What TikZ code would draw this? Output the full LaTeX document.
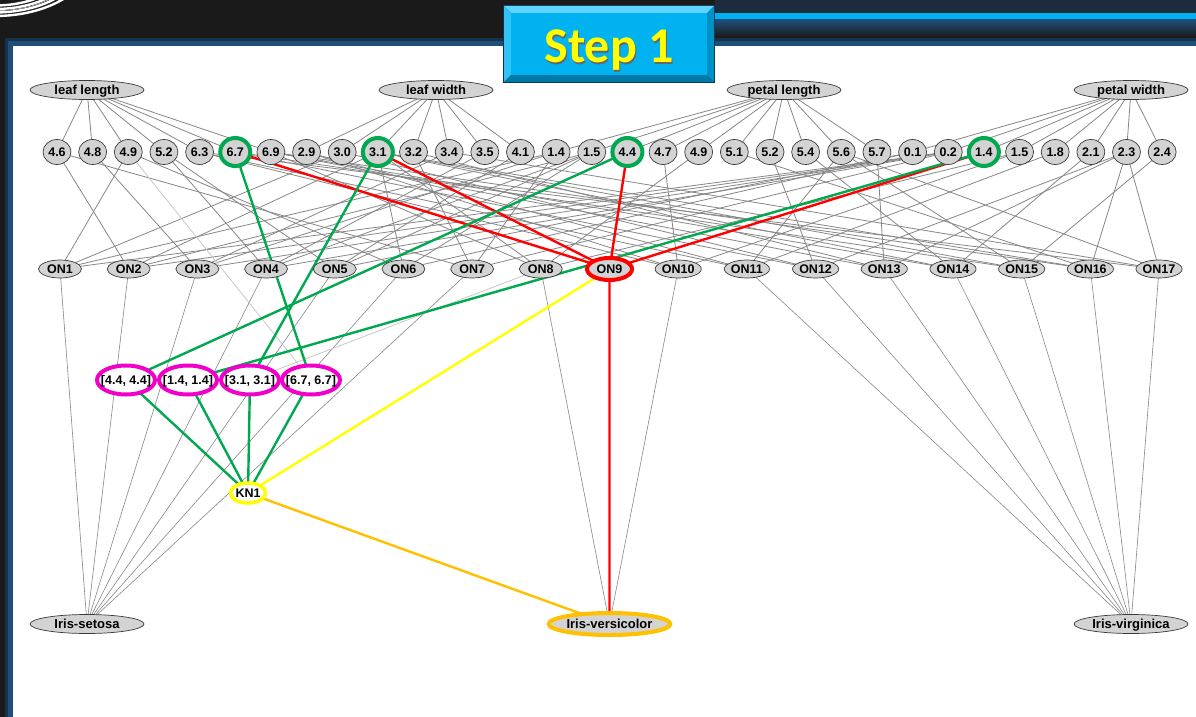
\documentclass[tikz,border=0pt]{standalone}
\usepackage{fontspec}
\setmainfont{Liberation Sans}
\newfontfamily\stepfont{Carlito}
\usetikzlibrary{shapes.geometric}

\definecolor{nodegray}{HTML}{D3D3D3}
\definecolor{nodeline}{HTML}{3A3A3A}
\definecolor{edgegray}{HTML}{878787}
\definecolor{lightedge}{HTML}{C8C8C8}
\definecolor{hlgreen}{HTML}{00A84F}
\definecolor{hlred}{HTML}{FF0000}
\definecolor{hlyellow}{HTML}{FFFF00}
\definecolor{hlorange}{HTML}{FFC000}
\definecolor{hlmagenta}{HTML}{F000C8}
\definecolor{framedark}{HTML}{1A1A1A}
\definecolor{framenavy}{HTML}{1F4E79}
\definecolor{framedeep}{HTML}{16324D}
\definecolor{bandtop}{HTML}{1C2C3E}
\definecolor{stripeblue}{HTML}{00B0F0}
\definecolor{stepface}{HTML}{00B2F0}
\definecolor{steplight}{HTML}{5FD4FF}
\definecolor{stepmid}{HTML}{33C2F6}
\definecolor{stepshade}{HTML}{0079A8}
\definecolor{stepside}{HTML}{0092C4}
\definecolor{stepedge}{HTML}{0B3350}

\pgfdeclarelayer{bg}
\pgfdeclarelayer{edges}
\pgfsetlayers{bg,edges,main}

\begin{document}
\begin{tikzpicture}[x=1pt,y=-1pt,
  every node/.style={inner sep=0pt,outer sep=0pt},
  lab/.style={font=\fontsize{12.5}{12.5}\selectfont\bfseries,text height=9pt,text depth=0.5pt},
  biglab/.style={font=\fontsize{13}{13}\selectfont\bfseries,text height=9.5pt,text depth=1pt},
  attr/.style={ellipse,draw=nodeline,fill=nodegray,line width=0.7pt,
    minimum width=114,minimum height=19,biglab},
  val/.style={ellipse,draw=nodeline,fill=nodegray,line width=0.7pt,
    minimum width=28,minimum height=25,lab},
  valhi/.style={ellipse,draw=hlgreen,fill=nodegray,line width=4pt,
    minimum width=30,minimum height=28,lab},
  on/.style={ellipse,draw=nodeline,fill=nodegray,line width=0.7pt,
    minimum width=43,minimum height=18,lab},
  onhi/.style={ellipse,draw=hlred,fill=nodegray,line width=4pt,
    minimum width=45,minimum height=22,lab},
  interval/.style={ellipse,draw=hlmagenta,fill=white,line width=4pt,
    minimum width=58,minimum height=29,lab},
  knode/.style={ellipse,draw=hlyellow,fill=white,line width=3.5pt,
    minimum width=35,minimum height=20,lab},
  cls/.style={ellipse,draw=nodeline,fill=nodegray,line width=0.7pt,
    minimum width=114,minimum height=19,biglab},
  clshi/.style={ellipse,draw=hlorange,fill=nodegray,line width=4pt,
    minimum width=116,minimum height=22,biglab},
  edge/.style={draw=edgegray,line width=0.8pt},
  faint/.style={draw=lightedge,line width=0.8pt},
  hl/.style={line width=2.4pt}]

\useasboundingbox (0,0) rectangle (1196,717);

% ---------- slide frame ----------
\begin{pgfonlayer}{bg}
  \fill[framedark] (0,0) rectangle (1196,717);
  % header band on the right
  \fill[bandtop] (715,0) rectangle (1196,13);
  \fill[stripeblue] (715,13) rectangle (1196,20);
  \shade[top color=framenavy,bottom color=framedark] (715,20) rectangle (1196,37);
  % glow round the white panel
  \fill[framedeep] (5,38) rectangle (1196,717);
  \fill[framenavy] (8,41) rectangle (1196,717);
  \fill[white] (13,46) rectangle (1196,717);
  % ring in the top-left corner
  \begin{scope}
    \clip (0,0) rectangle (90,20);
    \foreach \r in {56,52.5,49,45.5}
      \draw[white,line width=2.4pt] (-5,-40) ellipse [x radius={\r*1.7},y radius=\r];
    \draw[gray!70,line width=0.8pt] (-5,-40) ellipse [x radius={50.7*1.7},y radius=50.7];
  \end{scope}
  % bevelled title button
  \fill[stepedge] (503,5) rectangle (715,83);
  \fill[steplight] (504,6) -- (714,6) -- (707,13) -- (511,13) -- cycle;
  \fill[stepmid] (504,6) -- (511,13) -- (511,75) -- (504,82) -- cycle;
  \fill[stepshade] (504,82) -- (511,75) -- (707,75) -- (714,82) -- cycle;
  \fill[stepside] (714,6) -- (707,13) -- (707,75) -- (714,82) -- cycle;
  \fill[stepface] (511,13) rectangle (707,75);
\end{pgfonlayer}

\node[anchor=base,text=black!60,font=\stepfont\bfseries\fontsize{50}{50}\selectfont]
  (titleshadow) at (610,64) {Step 1};
\node[anchor=base,text=hlyellow,font=\stepfont\bfseries\fontsize{50}{50}\selectfont]
  (title) at (609,63) {Step 1};

% ---------- attributes ----------
\node[attr] (la) at (87,90) {leaf length};
\node[attr] (lw) at (436,90) {leaf width};
\node[attr] (pl) at (784,90) {petal length};
\node[attr] (pw) at (1131,90) {petal width};

% ---------- attribute values ----------
\foreach \lab/\st [count=\i from 0] in {4.6/val,4.8/val,4.9/val,5.2/val,6.3/val,6.7/valhi,6.9/val,
  2.9/val,3.0/val,3.1/valhi,3.2/val,3.4/val,3.5/val,4.1/val,
  1.4/val,1.5/val,4.4/valhi,4.7/val,4.9/val,5.1/val,5.2/val,5.4/val,5.6/val,5.7/val,
  0.1/val,0.2/val,1.4/valhi,1.5/val,1.8/val,2.1/val,2.3/val,2.4/val}
  \node[\st] (v\i) at ({57+35.65*\i},152) {\lab};

% ---------- object nodes ----------
\foreach \st [count=\i] in {on,on,on,on,on,on,on,on,onhi,on,on,on,on,on,on,on,on}
  \node[\st] (on\i) at ({60+68.69*(\i-1)},269) {ON\i};

% ---------- intervals and knowledge node ----------
\node[interval] (i44) at (126,380) {\makebox[0pt]{[4.4, 4.4]}};
\node[interval] (i14) at (188,380) {\makebox[0pt]{[1.4, 1.4]}};
\node[interval] (i31) at (250,380) {\makebox[0pt]{[3.1, 3.1]}};
\node[interval] (i67) at (311,380) {\makebox[0pt]{[6.7, 6.7]}};
\node[knode] (kn1) at (248,493) {\makebox[0pt]{KN1}};

% ---------- classes ----------
\node[cls] (setosa) at (87,624) {Iris-setosa};
\node[clshi] (versicolor) at (609.5,624) {Iris-versicolor};
\node[cls] (virginica) at (1131,624) {Iris-virginica};

% ---------- connectors ----------
\begin{pgfonlayer}{edges}
  % attribute -> value
  \foreach \a/\l in {la/{0,1,2,3,4,5,6},lw/{7,8,9,10,11,12,13},
      pl/{14,15,16,17,18,19,20,21,22,23},pw/{24,25,26,27,28,29,30,31}}
    \foreach \j in \l \draw[edge] (\a) -- (v\j);
  % value -> object
  \foreach \k/\l in {1/{2,8,14,25},2/{0,9,15,25},3/{1,11,14,25},4/{3,12,15,25},
      5/{3,13,15,24},6/{2,9,15,24},7/{0,10,14,25},8/{6,9,18,27},
      10/{4,7,17,27},11/{4,7,22,28},12/{5,8,20,30},13/{6,10,23,30},
      14/{6,9,21,29},15/{5,9,22,31},16/{6,9,19,30},17/{4,11,22,30}}
    \foreach \j in \l \draw[edge] (v\j) -- (on\k);
  % object -> class
  \foreach \k in {1,...,7} \draw[edge,line width=0.6pt] (on\k) -- (setosa);
  \foreach \k in {8,10} \draw[edge,line width=0.6pt] (on\k) -- (versicolor);
  \foreach \k in {11,...,17} \draw[edge,line width=0.6pt] (on\k) -- (virginica);
  % faint links to intervals
  \draw[faint] (v2) -- (i67);
  \draw[faint] (on8) -- (i31);
  % the selected object
  \foreach \j in {5,9,16,26} \draw[hl,hlred] (v\j) -- (on9);
  \draw[hl,hlred] (on9) -- (versicolor);
  % values -> intervals -> knowledge node
  \draw[hl,hlgreen] (v5) -- (i67);
  \draw[hl,hlgreen] (v9) -- (i31);
  \draw[hl,hlgreen] (v16) -- (i44);
  \draw[hl,hlgreen] (v26) -- (i14);
  \foreach \n in {i44,i14,i31,i67} \draw[hl,hlgreen] (\n) -- (kn1);
  \draw[hl,hlyellow] (kn1) -- (on9);
  \draw[hl,hlorange] (kn1) -- (versicolor);
\end{pgfonlayer}
\end{tikzpicture}
\end{document}
